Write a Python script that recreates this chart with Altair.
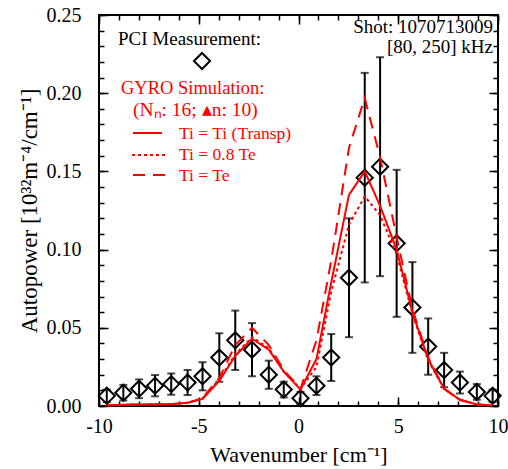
import altair as alt
import pandas as pd

# ---------------- data ----------------
k_meas = [-9.61, -8.78, -7.99, -7.19, -6.38, -5.56, -4.81, -3.97, -3.17, -2.33,
          -1.49, -0.74, 0.10, 0.90, 1.64, 2.53, 3.32, 4.09, 4.92, 5.71,
          6.50, 7.30, 8.09, 8.94, 9.73]
p_meas = [0.0065, 0.0085, 0.011, 0.013, 0.014, 0.015, 0.019, 0.031, 0.042, 0.036,
          0.020, 0.0105, 0.005, 0.013, 0.031, 0.082, 0.146, 0.153, 0.104, 0.063,
          0.038, 0.023, 0.015, 0.009, 0.0065]
err_meas = [0.004, 0.005, 0.006, 0.0068, 0.0068, 0.008, 0.009, 0.0155, 0.019, 0.017,
            0.009, 0.005, 0.004, 0.006, 0.015, 0.038, 0.067, 0.070, 0.047, 0.029,
            0.018, 0.011, 0.007, 0.005, 0.004]

k_sim = k_meas
sim_transp = [0.0005, 0.0008, 0.001, 0.001, 0.0012, 0.002, 0.0045, 0.016, 0.032, 0.043,
              0.036, 0.022, 0.0105, 0.030, 0.079, 0.135, 0.150, 0.128, 0.100, 0.060,
              0.030, 0.011, 0.004, 0.001, 0.0003]
sim_08te = [0.0005, 0.0008, 0.001, 0.001, 0.0012, 0.002, 0.005, 0.017, 0.033, 0.044,
            0.037, 0.022, 0.011, 0.025, 0.073, 0.116, 0.134, 0.122, 0.097, 0.059,
            0.029, 0.011, 0.004, 0.001, 0.0003]
sim_te = [0.0005, 0.0008, 0.001, 0.001, 0.0012, 0.002, 0.005, 0.018, 0.039, 0.050,
          0.039, 0.023, 0.011, 0.042, 0.093, 0.165, 0.197, 0.159, 0.108, 0.062,
          0.031, 0.011, 0.004, 0.001, 0.0003]

x_major = [-10, -5, 0, 5, 10]
x_minor = list(range(-10, 11))
y_major = [0.0, 0.05, 0.10, 0.15, 0.20, 0.25]
y_minor = [i / 100 for i in range(26)]

x_title = "Wavenumber [cm⁻¹]"
y_title = "Autopower [10³²m⁻⁴/cm⁻¹]"
legend_meas = "PCI Measurement:"
legend_sim = "GYRO Simulation:"
legend_sim2 = "(Nₙ: 16; ▴n: 10)"
legend_lines = ["Ti = Ti (Transp)", "Ti = 0.8 Te", "Ti = Te"]
shot_lines = ["Shot: 1070713009", "[80, 250] kHz"]

# ---------------- tables ----------------
meas = pd.DataFrame({"k": k_meas, "p": p_meas, "err": err_meas})
meas["lo"] = (meas["p"] - meas["err"]).clip(lower=0)
meas["hi"] = meas["p"] + meas["err"]
sim = pd.DataFrame({"k": k_sim, "transp": sim_transp, "te08": sim_08te, "te": sim_te})

FONT = "Liberation Serif"
RED = "#ff0000"
W, H = 399, 391
XS = alt.Scale(domain=[-10, 10], nice=False, zero=False)
YS = alt.Scale(domain=[0, 0.25], nice=False, zero=False)


def tick_axis(orient, values, size):
    return alt.Axis(orient=orient, values=values, tickSize=size, offset=-size,
                    labels=False, domain=False, grid=False, title=None, ticks=True,
                    tickColor="black", tickWidth=1.5)


main_x = alt.Axis(orient="bottom", values=x_major, labelExpr="'' + datum.value",
                  labelFont=FONT, labelFontSize=20, labelColor="black", labelPadding=10,
                  labelFlush=False, labelOverlap=False,
                  ticks=False, tickSize=0, domain=False, grid=False,
                  title=x_title, titleFont=FONT, titleFontSize=22, titleFontWeight="normal",
                  titleColor="black", titlePadding=8)
main_y = alt.Axis(orient="left", values=y_major, format=".2f",
                  labelFont=FONT, labelFontSize=20, labelColor="black", labelPadding=18,
                  labelFlush=False, labelOverlap=False,
                  ticks=False, tickSize=0, domain=False, grid=False,
                  title=y_title, titleFont=FONT, titleFontSize=23, titleFontWeight="normal",
                  titleColor="black", titlePadding=5)

rules = alt.Chart(meas).mark_rule(color="black", strokeWidth=2).encode(
    x=alt.X("k:Q", scale=XS, axis=main_x),
    y=alt.Y("lo:Q", scale=YS, axis=main_y),
    y2="hi:Q",
)
cap_lo = alt.Chart(meas).mark_tick(color="black", orient="horizontal", size=8, thickness=2).encode(
    x=alt.X("k:Q", scale=XS, axis=tick_axis("bottom", x_major, 9)),
    y=alt.Y("lo:Q", scale=YS, axis=tick_axis("left", y_major, 9)),
)
cap_hi = alt.Chart(meas).mark_tick(color="black", orient="horizontal", size=8, thickness=2).encode(
    x=alt.X("k:Q", scale=XS, axis=tick_axis("bottom", x_minor, 5)),
    y=alt.Y("hi:Q", scale=YS, axis=tick_axis("left", y_minor, 5)),
)
points = alt.Chart(meas).mark_point(shape="diamond", size=260, filled=False, color="black",
                                    strokeWidth=2, opacity=1).encode(
    x=alt.X("k:Q", scale=XS, axis=tick_axis("top", x_major, 9)),
    y=alt.Y("p:Q", scale=YS, axis=tick_axis("right", y_major, 9)),
)
line_transp = alt.Chart(sim).mark_line(color=RED, strokeWidth=2).encode(
    x=alt.X("k:Q", scale=XS, axis=tick_axis("top", x_minor, 5)),
    y=alt.Y("transp:Q", scale=YS, axis=tick_axis("right", y_minor, 5)),
)
line_08 = alt.Chart(sim).mark_line(color=RED, strokeWidth=2, strokeDash=[3, 3]).encode(
    x=alt.X("k:Q", scale=XS, axis=None),
    y=alt.Y("te08:Q", scale=YS, axis=None),
)
line_te = alt.Chart(sim).mark_line(color=RED, strokeWidth=2, strokeDash=[12, 8]).encode(
    x=alt.X("k:Q", scale=XS, axis=None),
    y=alt.Y("te:Q", scale=YS, axis=None),
)

one = pd.DataFrame({"d": [0]})


def label(text, x, y, color="black", size=18, align="left"):
    return alt.Chart(one).mark_text(text=text, font=FONT, fontSize=size, color=color,
                                    align=align, baseline="middle").encode(
        x=alt.value(x), y=alt.value(y))


def legend_rule(x1, x2, y, dash=None):
    kw = dict(color=RED, strokeWidth=2)
    if dash:
        kw["strokeDash"] = dash
    return alt.Chart(one).mark_rule(**kw).encode(x=alt.value(x1), x2=alt.value(x2), y=alt.value(y))


legend_diamond = alt.Chart(one).mark_point(shape="diamond", size=260, filled=False, color="black",
                                           strokeWidth=2, opacity=1).encode(
    x=alt.value(103), y=alt.value(46))

annotations = [
    label(legend_meas, 19, 24, size=19),
    legend_diamond,
    label(legend_sim, 22, 73, color=RED, size=18.5),
    label(legend_sim2, 34, 95, color=RED, size=19.5),
    legend_rule(34, 63, 118),
    label(legend_lines[0], 80, 119, color=RED, size=17.5),
    legend_rule(33, 67, 140, [3, 3]),
    label(legend_lines[1], 80, 140, color=RED, size=17.5),
    legend_rule(34, 66, 160, [12, 8]),
    label(legend_lines[2], 80, 161, color=RED, size=17.5),
    label(shot_lines[0], 394, 12, size=19, align="right"),
    label(shot_lines[1], 394, 32, size=19, align="right"),
]

chart = alt.layer(
    rules, cap_lo, cap_hi, points, line_transp, line_08, line_te, *annotations
).resolve_axis(x="independent", y="independent").properties(
    width=W, height=H,
    autosize=alt.AutoSizeParams(type="none"),
    padding={"left": 99, "top": 15, "right": 10, "bottom": 63},
    background="white",
).configure_view(stroke="black", strokeWidth=2)

chart.save("out.html", embed_options={"renderer": "svg", "actions": False})
